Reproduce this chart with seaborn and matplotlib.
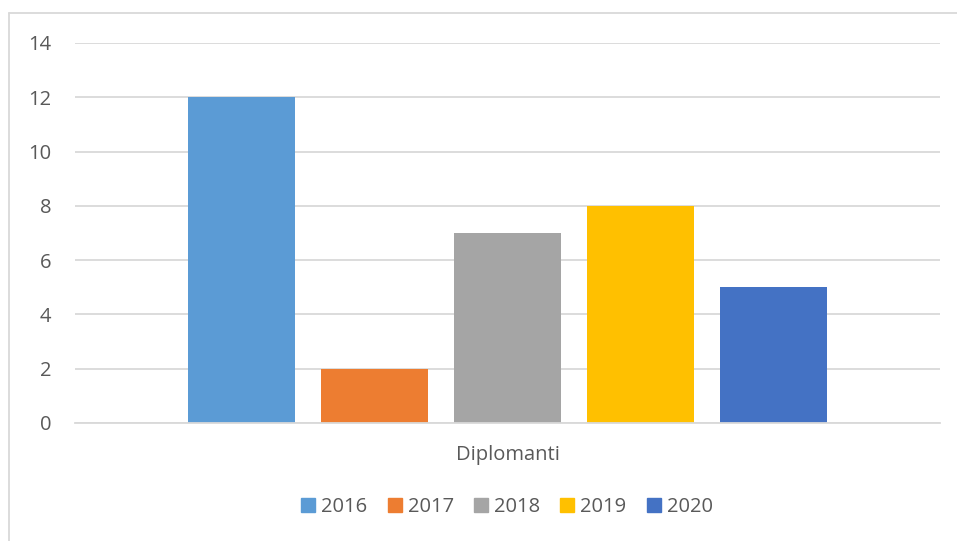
import pandas as pd
import seaborn as sns
import matplotlib.pyplot as plt
from matplotlib.lines import Line2D

# Data
category = "Diplomanti"
years = ["2016", "2017", "2018", "2019", "2020"]
values = [12, 2, 7, 8, 5]
colors = ["#5B9BD5", "#ED7D31", "#A5A5A5", "#FFC000", "#4472C4"]

df = pd.DataFrame({"cat": [category] * len(years), "year": years, "value": values})

sns.set_theme(style="white")
plt.rcParams["font.family"] = ["Open Sans", "DejaVu Sans"]

W, H = 957, 541
fig = plt.figure(figsize=(W / 100, H / 100), dpi=100)
ax = fig.add_axes([75 / W, 1 - 423 / H, (940 - 75) / W, (423 - 43) / H])

sns.barplot(data=df, x="cat", y="value", hue="year", palette=colors,
            width=0.769, gap=0.2, saturation=1, linewidth=0,
            ax=ax, legend=False)

ax.set_ylim(0, 14)
ax.set_xlim(-0.5, 0.5)
ax.set_yticks(range(0, 15, 2))
ax.set_xlabel("")
ax.set_ylabel("")
ax.yaxis.grid(True, color="#d9d9d9", linewidth=1.3)
ax.set_axisbelow(True)
for s in ["top", "right", "left"]:
    ax.spines[s].set_visible(False)
ax.spines["bottom"].set_color("#d9d9d9")
ax.spines["bottom"].set_linewidth(1.3)
ax.tick_params(axis="both", length=0, colors="#595959", labelsize=14.5)
ax.tick_params(axis="y", pad=17)
ax.tick_params(axis="x", pad=16)

# Legend
handles = [plt.Rectangle((0, 0), 1, 1, color=c) for c in colors]
fig.legend(handles, years, loc="center", bbox_to_anchor=(507 / W, 1 - 507 / H),
           ncol=5, frameon=False, handlelength=0.7, handleheight=0.7,
           handletextpad=0.3, columnspacing=1.0,
           prop={"size": 14.5}, labelcolor="#595959")

# Chart border (left and top visible)
fig.add_artist(Line2D([9 / W, 9 / W], [0, 1 - 13 / H], color="#d9d9d9", lw=1.3))
fig.add_artist(Line2D([9 / W, 1], [1 - 13 / H, 1 - 13 / H], color="#d9d9d9", lw=1.3))

fig.savefig("out.png", dpi=100)
